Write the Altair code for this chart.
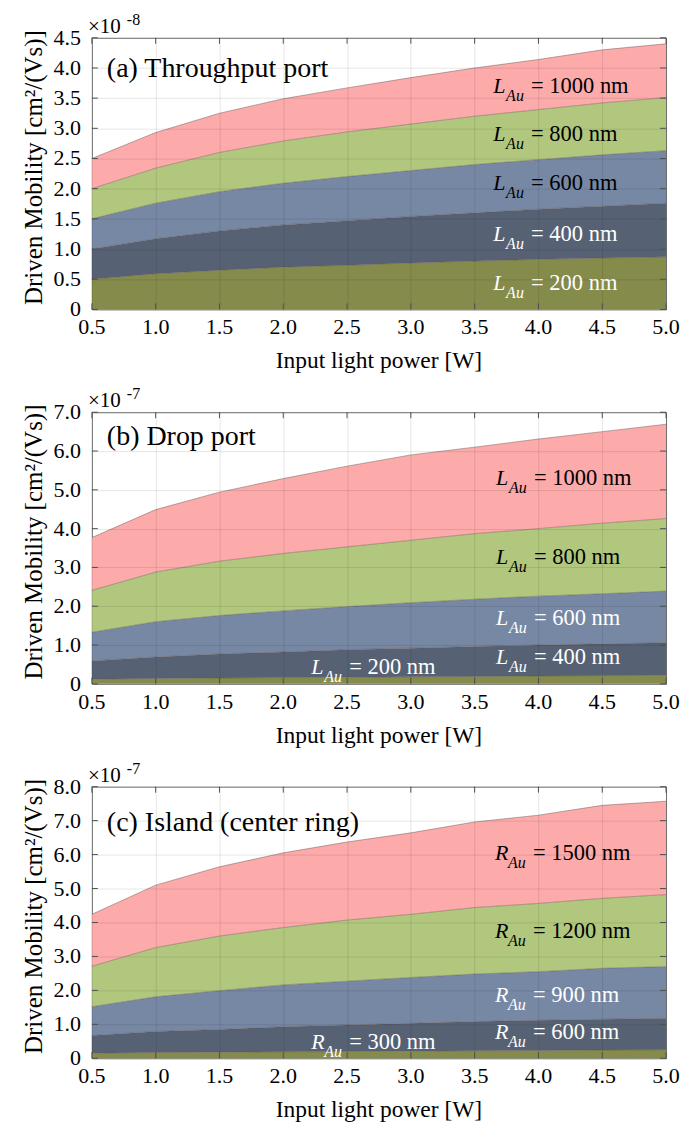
import altair as alt
import pandas as pd

FONT = "Liberation Serif"

power = [0.5, 1.0, 1.5, 2.0, 2.5, 3.0, 3.5, 4.0, 4.5, 5.0]

# Panel (a) Throughput port, values in units of 1e-8
a_names = ["200 nm", "400 nm", "600 nm", "800 nm", "1000 nm"]
a_200 = [0.50, 0.59, 0.65, 0.70, 0.73, 0.77, 0.80, 0.83, 0.85, 0.87]
a_400 = [1.00, 1.17, 1.30, 1.40, 1.47, 1.54, 1.60, 1.66, 1.71, 1.76]
a_600 = [1.50, 1.76, 1.95, 2.09, 2.20, 2.30, 2.40, 2.48, 2.56, 2.63]
a_800 = [2.00, 2.34, 2.60, 2.79, 2.94, 3.07, 3.20, 3.31, 3.42, 3.51]
a_1000 = [2.50, 2.93, 3.25, 3.49, 3.67, 3.84, 4.00, 4.14, 4.30, 4.40]

# Panel (b) Drop port, values in units of 1e-7
b_names = ["200 nm", "400 nm", "600 nm", "800 nm", "1000 nm"]
b_200 = [0.12, 0.14, 0.15, 0.16, 0.17, 0.18, 0.19, 0.20, 0.21, 0.22]
b_400 = [0.59, 0.69, 0.77, 0.82, 0.88, 0.92, 0.96, 1.00, 1.03, 1.06]
b_600 = [1.33, 1.60, 1.76, 1.88, 1.99, 2.09, 2.18, 2.26, 2.32, 2.39]
b_800 = [2.41, 2.88, 3.16, 3.36, 3.53, 3.70, 3.87, 4.00, 4.14, 4.26]
b_1000 = [3.77, 4.49, 4.94, 5.29, 5.61, 5.90, 6.10, 6.31, 6.50, 6.69]

# Panel (c) Island (center ring), values in units of 1e-7
c_names = ["300 nm", "600 nm", "900 nm", "1200 nm", "1500 nm"]
c_300 = [0.15, 0.17, 0.18, 0.19, 0.20, 0.21, 0.22, 0.23, 0.24, 0.25]
c_600 = [0.67, 0.79, 0.85, 0.93, 0.98, 1.03, 1.08, 1.12, 1.15, 1.18]
c_900 = [1.52, 1.81, 1.99, 2.16, 2.27, 2.38, 2.48, 2.55, 2.65, 2.70]
c_1200 = [2.71, 3.26, 3.60, 3.85, 4.07, 4.24, 4.44, 4.56, 4.71, 4.82]
c_1500 = [4.24, 5.10, 5.64, 6.05, 6.37, 6.64, 6.96, 7.16, 7.45, 7.57]

band_colors = ["#858b4a", "#566274", "#7788a5", "#b1c77e", "#fcaaaa"]

a_yticks = [0, 0.5, 1.0, 1.5, 2.0, 2.5, 3.0, 3.5, 4.0, 4.5]
b_yticks = [0, 1, 2, 3, 4, 5, 6, 7]
c_yticks = [0, 1, 2, 3, 4, 5, 6, 7, 8]

x_title = "Input light power [W]"
y_title = "Driven Mobility [cm²/(Vs)]"

# label annotations (data coordinates of baseline start)
a_lab_x = [3.645, 3.645, 3.645, 3.645, 3.645]
a_lab_y = [0.32, 1.14, 1.97, 2.79, 3.59]
a_lab_color = ["white", "white", "black", "black", "black"]
b_lab_x = [2.22, 3.668, 3.668, 3.668, 3.668]
b_lab_y = [0.25, 0.50, 1.52, 3.09, 5.12]
b_lab_color = ["white", "white", "white", "black", "black"]
c_lab_x = [2.22, 3.66, 3.66, 3.66, 3.66]
c_lab_y = [0.26, 0.56, 1.67, 3.53, 5.85]
c_lab_color = ["white", "white", "white", "black", "black"]

W, H = 575, 272
TICK = 6

AX = dict(labels=False, title=None, ticks=False, domain=False, grid=True,
          gridColor="#000000", gridOpacity=0.1, gridWidth=1, zindex=1)


def panel(names, curves, ymax, yticks, letter, title, title_y, exp,
          lab_x, lab_y, lab_color):
    rows = []
    lower = [0.0] * len(power)
    for name, vals, colr in zip(names, curves, band_colors):
        for xv, lo, hi in zip(power, lower, vals):
            rows.append({"x": xv, "lo": lo, "hi": hi, "series": name, "fill": colr})
        lower = vals
    df = pd.DataFrame(rows)

    xscale = alt.Scale(domain=[0.5, 5.0], nice=False, zero=False)
    yscale = alt.Scale(domain=[0, ymax], nice=False)
    xaxis = alt.Axis(values=power, **AX)
    yaxis = alt.Axis(values=yticks, **AX)
    X = alt.X("x:Q", scale=xscale, axis=xaxis)
    Y = alt.Y("hi:Q", scale=yscale, axis=yaxis)

    bands = alt.Chart(df).mark_area(opacity=1).encode(
        x=X, y=Y, y2="lo:Q",
        color=alt.Color("fill:N", scale=None, legend=None),
        detail="series:N",
    )
    edges = alt.Chart(df).mark_line(strokeWidth=0.8, color="#5e4f4a", opacity=0.55).encode(
        x=X, y=Y, detail="series:N"
    )

    xt = pd.DataFrame({"x": power, "lab": [f"{v:.1f}" for v in power]})
    yt = pd.DataFrame({"hi": yticks,
                       "lab": ["0" if v == 0 else f"{v:.1f}" for v in yticks]})
    tick_style = dict(color="#555555", strokeWidth=1)
    xb = alt.Chart(xt).mark_rule(**tick_style).encode(
        x=X, y=alt.value(H), y2=alt.value(H - TICK))
    xtop = alt.Chart(xt).mark_rule(**tick_style).encode(
        x=X, y=alt.value(0), y2=alt.value(TICK))
    yl = alt.Chart(yt).mark_rule(**tick_style).encode(
        y=Y, x=alt.value(0), x2=alt.value(TICK))
    yr = alt.Chart(yt).mark_rule(**tick_style).encode(
        y=Y, x=alt.value(W), x2=alt.value(W - TICK))

    # axis tick labels and titles drawn as text
    xlab = alt.Chart(xt).mark_text(font=FONT, fontSize=22, align="center",
                                   baseline="top", color="black").encode(
        x=X, y=alt.value(H + 8), text="lab:N")
    ylab = alt.Chart(yt).mark_text(font=FONT, fontSize=22, align="right",
                                   baseline="middle", color="black").encode(
        y=Y, x=alt.value(-11), text="lab:N")
    tt = pd.DataFrame({"xt": [x_title], "yt": [y_title]})
    xtt = alt.Chart(tt).mark_text(font=FONT, fontSize=23.5, align="center",
                                  baseline="alphabetic", color="black").encode(
        x=alt.value(W / 2), y=alt.value(H + 59), text="xt:N")
    ytt = alt.Chart(tt).mark_text(font=FONT, fontSize=25, align="center", angle=270,
                                  baseline="middle", color="black").encode(
        x=alt.value(-58), y=alt.value(H / 2 - 6), text="yt:N")

    lab = pd.DataFrame({
        "x": lab_x, "hi": lab_y, "col": lab_color,
        "L": [letter] * len(names), "sub": ["Au"] * len(names),
        "rest": ["= " + n for n in names],
    })
    col = alt.Color("col:N", scale=None, legend=None)
    l1 = alt.Chart(lab).mark_text(font=FONT, fontSize=22, fontStyle="italic",
                                  align="left", baseline="alphabetic").encode(
        x=X, y=Y, text="L:N", color=col)
    l2 = alt.Chart(lab).mark_text(font=FONT, fontSize=16, fontStyle="italic",
                                  align="left", baseline="alphabetic", dx=13, dy=8).encode(
        x=X, y=Y, text="sub:N", color=col)
    l3 = alt.Chart(lab).mark_text(font=FONT, fontSize=22.5,
                                  align="left", baseline="alphabetic", dx=38).encode(
        x=X, y=Y, text="rest:N", color=col)

    tdf = pd.DataFrame({"t": [title], "e1": ["×10"], "e2": [exp]})
    ttl = alt.Chart(tdf).mark_text(font=FONT, fontSize=28, align="left",
                                   baseline="alphabetic", color="black").encode(
        x=alt.value(15), y=alt.value(title_y), text="t:N")
    e1 = alt.Chart(tdf).mark_text(font=FONT, fontSize=21, align="left",
                                  baseline="alphabetic", color="black").encode(
        x=alt.value(-4), y=alt.value(-5), text="e1:N")
    e2 = alt.Chart(tdf).mark_text(font=FONT, fontSize=16, align="left",
                                  baseline="alphabetic", color="black").encode(
        x=alt.value(35), y=alt.value(-13), text="e2:N")

    return alt.layer(bands, edges, xb, xtop, yl, yr, xlab, ylab, xtt, ytt,
                     l1, l2, l3, ttl, e1, e2).properties(width=W, height=H)


pa = panel(a_names, [a_200, a_400, a_600, a_800, a_1000], 4.5, a_yticks, "L",
           "(a) Throughput port", 39, "-8", a_lab_x, a_lab_y, a_lab_color)
pb = panel(b_names, [b_200, b_400, b_600, b_800, b_1000], 7.0, b_yticks, "L",
           "(b) Drop port", 33, "-7", b_lab_x, b_lab_y, b_lab_color)
pc = panel(c_names, [c_300, c_600, c_900, c_1200, c_1500], 8.0, c_yticks, "R",
           "(c) Island (center ring)", 44, "-7", c_lab_x, c_lab_y, c_lab_color)

chart = alt.VConcatChart(vconcat=[pa, pb, pc], spacing=103, bounds="flush").properties(
    padding={"left": 13, "top": 2, "right": 0, "bottom": 0}
).configure(
    font=FONT,
).configure_view(
    stroke="#777777", strokeWidth=1
)

chart.save("out.html", embed_options={"renderer": "svg", "actions": False})
